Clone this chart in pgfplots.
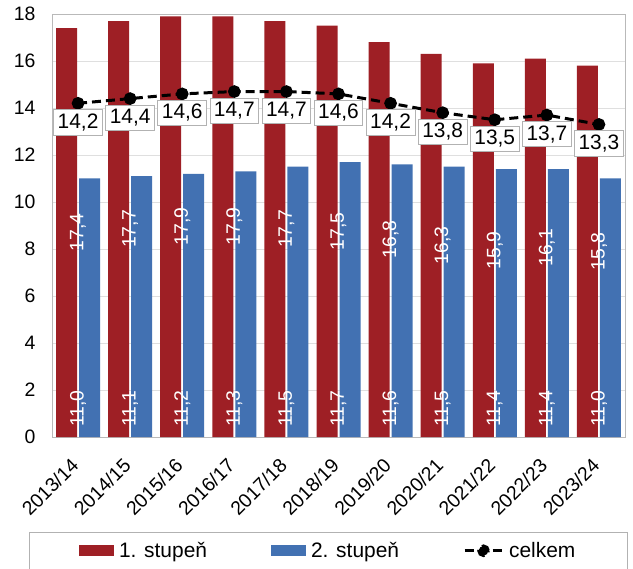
\documentclass[border=0pt]{standalone}
\usepackage{pgfplots}
\pgfplotsset{compat=1.18}
\usepackage{pgfplotstable}
\usepackage{fontspec}
\setmainfont{Liberation Sans}
\definecolor{cred}{RGB}{158,31,37}
\definecolor{cblue}{RGB}{66,113,178}

\pgfplotstableread{
x r b c
0 17.4 11.0 14.2
1 17.7 11.1 14.4
2 17.9 11.2 14.6
3 17.9 11.3 14.7
4 17.7 11.5 14.7
5 17.5 11.7 14.6
6 16.8 11.6 14.2
7 16.3 11.5 13.8
8 15.9 11.4 13.5
9 16.1 11.4 13.7
10 15.8 11.0 13.3
}\data

\newcommand{\fmt}{\pgfmathprintnumber[assume math mode=true,use comma,fixed,fixed zerofill,precision=1]{\pgfplotspointmeta}}

\begin{document}
\begin{tikzpicture}
\useasboundingbox (-52bp,-132bp) rectangle (581bp,437bp);
\begin{axis}[
  at={(0,0)}, anchor=south west,
  scale only axis, width=573bp, height=423bp,
  xmin=-0.5, xmax=10.5, ymin=0, ymax=18,
  ytick={0,2,...,18},
  xtick={0,...,10},
  xticklabels={2013/14,2014/15,2015/16,2016/17,2017/18,2018/19,2019/20,2020/21,2021/22,2022/23,2023/24},
  ymajorgrids, grid style={gray!25, line width=0.8bp},
  axis line style={gray!55, line width=0.8bp},
  major tick length=0pt,
  /pgf/number format/assume math mode=true,
  tick label style={font=\fontsize{19.5}{22}\selectfont},
  yticklabel style={xshift=-13bp},
  xticklabel style={inner sep=0pt, anchor=east, xshift=-3bp, yshift=-25bp, rotate=45},
  legend style={at={(0.482,-0.2246)}, anchor=north, legend columns=3,
    draw=gray!60, line width=0.8bp, font=\fontsize{21}{24}\selectfont,
    inner xsep=50bp, inner ysep=8bp,
    /tikz/every even column/.append style={column sep=62bp},
    /tikz/every odd column/.append style={column sep=3bp},
    nodes={inner sep=2bp}},
]
\addplot[ybar, bar width=21bp, bar shift=-11.5bp, fill=cred, draw=none,
  legend image code/.code={\fill[cred] (0bp,-5.5bp) rectangle (35bp,5.5bp);},
  visualization depends on=y \as \rawy,
  nodes near coords={\fontsize{19.5}{22}\selectfont\fmt},
  nodes near coords style={yshift={-\rawy*11.75bp}, rotate=90, anchor=center, inner sep=1bp, text=white}]
  table[x=x,y=r]{\data};
\addlegendentry{1. stupeň}
\addplot[ybar, bar width=21bp, bar shift=11.5bp, fill=cblue, draw=none,
  legend image code/.code={\fill[cblue] (0bp,-5.5bp) rectangle (35bp,5.5bp);},
  visualization depends on=y \as \rawy,
  nodes near coords={\fontsize{19.5}{22}\selectfont\fmt},
  nodes near coords style={yshift={-\rawy*23.5bp+9bp}, rotate=90, anchor=west, inner sep=1bp, text=white}]
  table[x=x,y=b]{\data};
\addlegendentry{2. stupeň}
\addplot[sharp plot, black, line width=3bp, dash pattern=on 9bp off 5bp,
  mark=*, mark size=4.8bp, mark options={solid},
  legend image code/.code={\draw[black, line width=3bp, dash pattern=on 9bp off 5bp] (0bp,0bp) -- (38bp,0bp); \fill[black] (19bp,0bp) circle (4.8bp);},
  nodes near coords={\fontsize{21}{24}\selectfont\fmt},
  nodes near coords style={anchor=north, yshift=-6bp, draw=gray!60, solid, line width=0.8bp, fill=white, text=black, inner xsep=4bp, inner ysep=4bp}]
  table[x=x,y=c]{\data};
\addlegendentry{celkem}
\end{axis}
\end{tikzpicture}
\end{document}
